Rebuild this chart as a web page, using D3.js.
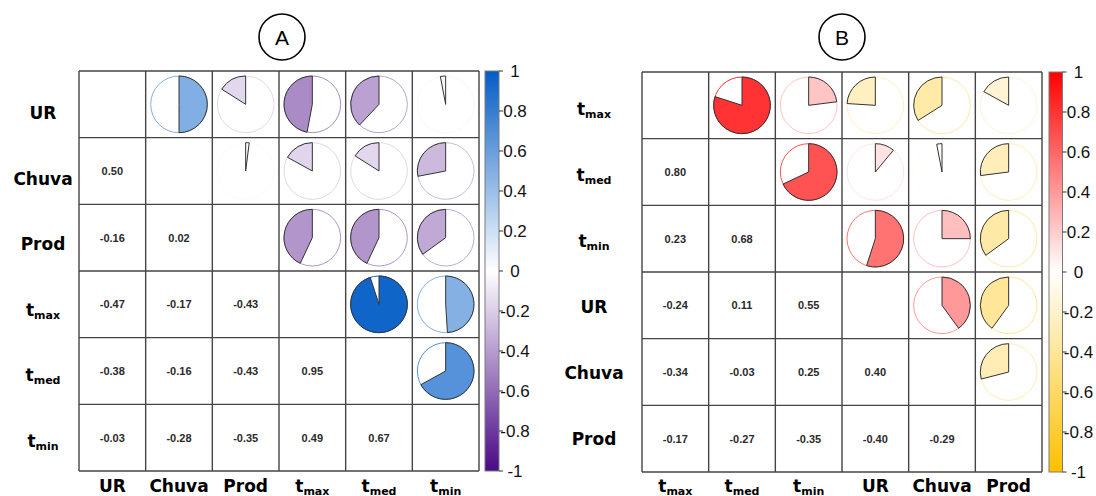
<!DOCTYPE html>
<html>
<head>
<meta charset="utf-8">
<script src="https://cdn.jsdelivr.net/npm/d3@7/dist/d3.min.js"></script>
<style>
  html, body { margin: 0; padding: 0; background: #ffffff; }
  svg { display: block; }
</style>
</head>
<body>
<svg id="chart" width="1096" height="496"></svg>
<script>
// Variables of each correlation matrix (main text + optional subscript)
const varsA = [["UR", ""], ["Chuva", ""], ["Prod", ""], ["t", "max"], ["t", "med"], ["t", "min"]];
const varsB = [["t", "max"], ["t", "med"], ["t", "min"], ["UR", ""], ["Chuva", ""], ["Prod", ""]];

// Lower-triangle correlation coefficients (row i holds columns 0..i-1)
const corrA = [
  [],
  [0.50],
  [-0.16, 0.02],
  [-0.47, -0.17, -0.43],
  [-0.38, -0.16, -0.43, 0.95],
  [-0.03, -0.28, -0.35, 0.49, 0.67]
];
const corrB = [
  [],
  [0.80],
  [0.23, 0.68],
  [-0.24, 0.11, 0.55],
  [-0.34, -0.03, 0.25, 0.40],
  [-0.17, -0.27, -0.35, -0.40, -0.29]
];

// Colour-bar tick values
const barTicks = [1, 0.8, 0.6, 0.4, 0.2, 0, -0.2, -0.4, -0.6, -0.8, -1];

// Colour ramp end points for each panel: [negative, zero, positive]
const rampA = ["#4a0886", "#ffffff", "#035dc6"];
const rampB = ["#ffc000", "#ffffff", "#ff0000"];

const svg = d3.select("#chart");
const labelFont = "'DejaVu Sans', sans-serif";
const numFont = "'Liberation Sans', Arial, sans-serif";

// two decimals with a plain hyphen for negatives
const fmt2 = d3.formatLocale({ decimal: ".", thousands: ",", grouping: [3], currency: ["", ""], minus: "-" }).format(".2f");

function addLabel(sel, v) {
  sel.append("tspan").text(v[0]);
  if (v[1]) {
    sel.append("tspan").attr("font-size", 11).attr("dy", 3).text(v[1]);
  }
}

function drawPanel(p) {
  const g = svg.append("g");
  const n = p.vars.length;
  const idx = d3.range(n);

  const x = d3.scaleBand().domain(idx).range([p.x0, p.x0 + p.size]);
  const y = d3.scaleBand().domain(idx).range([p.y0, p.y0 + p.size]);
  const color = d3.scaleLinear().domain([-1, 0, 1]).range(p.ramp).interpolate(d3.interpolateRgb);
  const rowLabelY = d3.scalePoint().domain(idx).range(p.rowLabelRange);
  const cw = x.bandwidth();
  const r = cw * 0.425;

  const val = (i, j) => (i > j ? p.corr[i][j] : p.corr[j][i]);

  const cells = [];
  idx.forEach(i => idx.forEach(j => cells.push({ i, j })));

  // Pies in the upper triangle
  const arc = d3.arc().innerRadius(0).outerRadius(r).startAngle(0);
  const upper = g.selectAll("g.pie")
    .data(cells.filter(c => c.j > c.i))
    .join("g")
    .attr("class", "pie")
    .attr("transform", c => `translate(${x(c.j) + cw / 2},${y(c.i) + cw / 2})`);
  upper.append("circle")
    .attr("r", r)
    .attr("fill", "none")
    .attr("stroke", c => color(val(c.i, c.j)))
    .attr("stroke-width", 1);
  upper.append("path")
    .attr("d", c => arc({ endAngle: 2 * Math.PI * val(c.i, c.j) }))
    .attr("fill", c => color(val(c.i, c.j)))
    .attr("stroke", "#333")
    .attr("stroke-width", 1)
    .attr("stroke-linejoin", "round");

  // Coefficients in the lower triangle
  g.selectAll("text.num")
    .data(cells.filter(c => c.i > c.j))
    .join("text")
    .attr("class", "num")
    .attr("x", c => x(c.j) + cw / 2)
    .attr("y", c => y(c.i) + cw / 2)
    .attr("dy", "0.35em")
    .attr("text-anchor", "middle")
    .attr("font-family", numFont)
    .attr("font-weight", "bold")
    .attr("font-size", 11)
    .attr("fill", "#2a2a2a")
    .text(c => fmt2(val(c.i, c.j)));

  // Grid lines
  const grid = g.append("g").attr("stroke", "#444").attr("stroke-width", 1.4);
  d3.range(n + 1).forEach(k => {
    const pos = p.x0 + k * cw;
    grid.append("line").attr("x1", pos).attr("x2", pos).attr("y1", p.y0).attr("y2", p.y0 + p.size);
    const posY = p.y0 + k * cw;
    grid.append("line").attr("x1", p.x0).attr("x2", p.x0 + p.size).attr("y1", posY).attr("y2", posY);
  });

  // Row labels
  g.selectAll("text.rowlab")
    .data(idx)
    .join("text")
    .attr("class", "rowlab")
    .attr("x", p.rowLabelX)
    .attr("y", i => rowLabelY(i))
    .attr("text-anchor", "middle")
    .attr("font-family", labelFont)
    .attr("font-weight", "bold")
    .attr("font-size", 17)
    .attr("fill", "#000")
    .each(function (i) { addLabel(d3.select(this), p.vars[i]); });

  // Column labels
  g.selectAll("text.collab")
    .data(idx)
    .join("text")
    .attr("class", "collab")
    .attr("x", i => x(i) + cw / 2)
    .attr("y", p.colLabelY)
    .attr("text-anchor", "middle")
    .attr("font-family", labelFont)
    .attr("font-weight", "bold")
    .attr("font-size", 17)
    .attr("fill", "#000")
    .each(function (i) { addLabel(d3.select(this), p.vars[i]); });

  // Colour bar
  const by = d3.scaleLinear().domain([1, -1]).range([p.bar.y0, p.bar.y1]);
  const gradId = "grad" + p.id;
  const grad = svg.append("defs").append("linearGradient")
    .attr("id", gradId).attr("x1", 0).attr("x2", 0).attr("y1", 0).attr("y2", 1);
  d3.range(0, 1.0001, 0.05).forEach(t => {
    const v = 1 - 2 * t;
    grad.append("stop").attr("offset", t).attr("stop-color", color(v));
  });
  g.append("rect")
    .attr("x", p.bar.x)
    .attr("y", by(1))
    .attr("width", p.bar.w)
    .attr("height", by(-1) - by(1))
    .attr("fill", `url(#${gradId})`)
    .attr("stroke", "#7a7a7a")
    .attr("stroke-width", 1);
  const bx = p.bar.x + p.bar.w;
  g.selectAll("line.btick")
    .data(barTicks)
    .join("line")
    .attr("class", "btick")
    .attr("x1", bx).attr("x2", bx + 4)
    .attr("y1", d => by(d)).attr("y2", d => by(d))
    .attr("stroke", "#333").attr("stroke-width", 1);
  g.selectAll("text.blab")
    .data(barTicks)
    .join("text")
    .attr("class", "blab")
    .attr("x", bx + 16)
    .attr("y", d => by(d))
    .attr("dy", "0.36em")
    .attr("text-anchor", "middle")
    .attr("font-family", numFont)
    .attr("font-size", 17)
    .attr("fill", "#111")
    .text(d => String(d));

  // Panel letter in a circle
  g.append("circle")
    .attr("cx", p.letter.x).attr("cy", p.letter.y).attr("r", 23)
    .attr("fill", "none").attr("stroke", "#000").attr("stroke-width", 1.6);
  g.append("text")
    .attr("x", p.letter.x).attr("y", p.letter.y)
    .attr("dy", "0.36em")
    .attr("text-anchor", "middle")
    .attr("font-family", numFont)
    .attr("font-size", 21)
    .attr("fill", "#000")
    .text(p.id);
}

drawPanel({
  id: "A", vars: varsA, corr: corrA, ramp: rampA,
  x0: 79, y0: 71, size: 400,
  rowLabelX: 43, rowLabelRange: [119, 447], colLabelY: 492,
  bar: { x: 485, w: 14, y0: 71, y1: 471 },
  letter: { x: 282, y: 37 }
});

drawPanel({
  id: "B", vars: varsB, corr: corrB, ramp: rampB,
  x0: 642, y0: 72, size: 400,
  rowLabelX: 594, rowLabelRange: [115, 445], colLabelY: 492,
  bar: { x: 1049, w: 13.5, y0: 72, y1: 472 },
  letter: { x: 842, y: 37 }
});
</script>
</body>
</html>
